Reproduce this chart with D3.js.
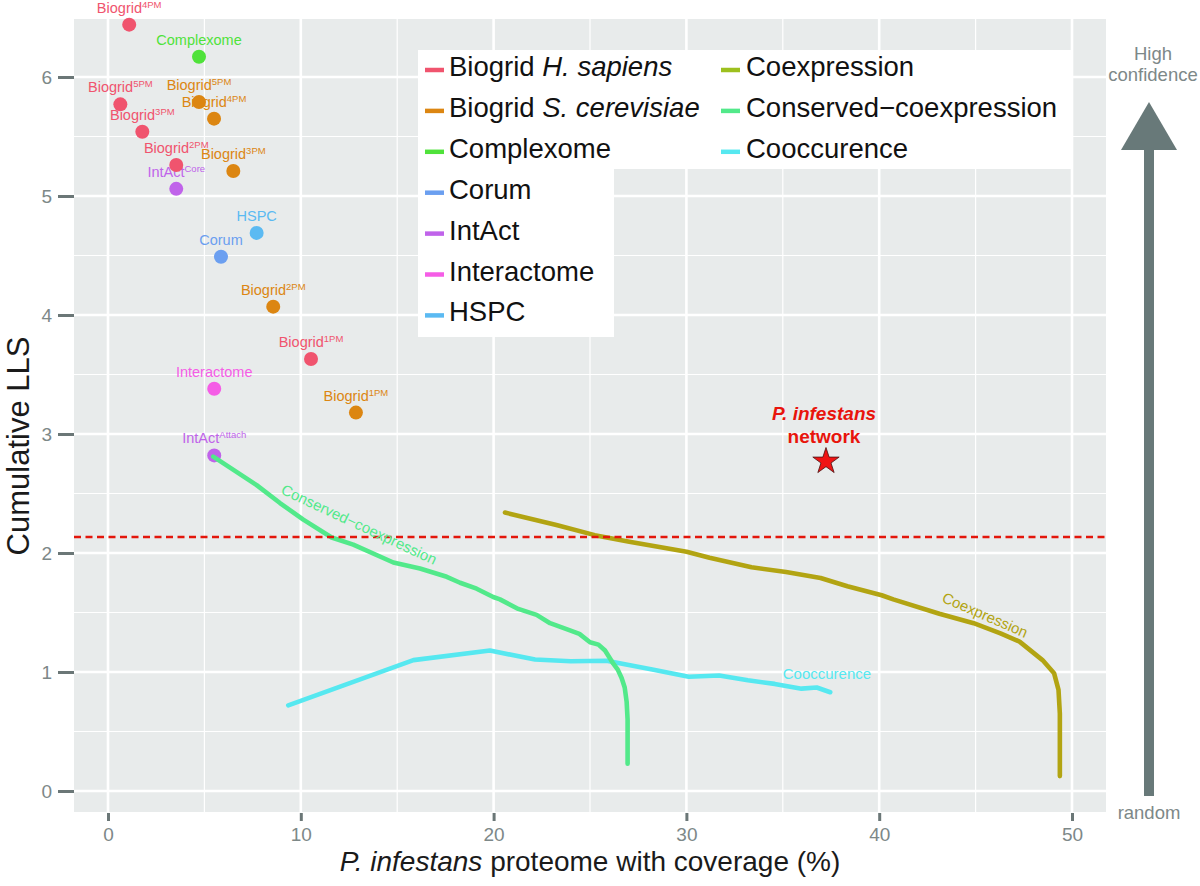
<!DOCTYPE html>
<html>
<head>
<meta charset="utf-8">
<script src="https://cdn.jsdelivr.net/npm/d3@7"></script>
<style>
  html, body { margin: 0; padding: 0; background: #ffffff; }
  svg { display: block; }
  text { font-family: "Liberation Sans", Arial, Helvetica, sans-serif; }
</style>
</head>
<body>
<div id="chart"></div>
<script>
// ---------------- DATA ----------------
const groupNames = ["Biogrid H. sapiens", "Biogrid S. cerevisiae", "Complexome", "Corum", "IntAct",
                    "Interactome", "HSPC", "Coexpression", "Conserved\u2212coexpression", "Cooccurence"];
const groupColors = ["#f0546e", "#dc8612", "#4fe23a", "#6b9ff0", "#c063ea",
                     "#f55de6", "#5bbaf2", "#b2a412", "#52e98a", "#56e8f0"];
const legendKeyColors = ["#f0546e", "#dc8612", "#4fe23a", "#6b9ff0", "#c063ea",
                         "#f55de6", "#5bbaf2", "#9dc01e", "#52e98a", "#56e8f0"];

// point datasets
const pointNames  = ["Biogrid", "Complexome", "Biogrid", "Biogrid", "Biogrid", "Biogrid", "Biogrid", "Biogrid",
                     "IntAct", "HSPC", "Corum", "Biogrid", "Biogrid", "Interactome", "Biogrid", "IntAct"];
const pointSups   = ["4PM", "", "5PM", "5PM", "4PM", "3PM", "2PM", "3PM",
                     "Core", "", "", "2PM", "1PM", "", "1PM", "Attach"];
const pointGroups = ["Biogrid H. sapiens", "Complexome", "Biogrid H. sapiens", "Biogrid S. cerevisiae",
                     "Biogrid S. cerevisiae", "Biogrid H. sapiens", "Biogrid H. sapiens", "Biogrid S. cerevisiae",
                     "IntAct", "HSPC", "Corum", "Biogrid S. cerevisiae", "Biogrid H. sapiens", "Interactome",
                     "Biogrid S. cerevisiae", "IntAct"];
const pointX = [1.10, 4.72, 0.64, 4.72, 5.50, 1.78, 3.54, 6.50, 3.54, 7.71, 5.86, 8.57, 10.53, 5.51, 12.86, 5.51];
const pointY = [6.44, 6.17, 5.77, 5.79, 5.65, 5.54, 5.26, 5.21, 5.06, 4.69, 4.49, 4.07, 3.63, 3.38, 3.18, 2.82];

// curve datasets
const coexX = [20.59, 23.26, 25.25, 27.04, 30.01, 31.20, 33.38, 35.17, 36.96, 38.35, 40.13, 40.73,
               43.12, 44.90, 46.29, 47.28, 48.47, 49.07, 49.30, 49.37, 49.37];
const coexY = [2.34, 2.235, 2.15, 2.095, 2.01, 1.96, 1.88, 1.84, 1.79, 1.72, 1.645, 1.61,
               1.49, 1.41, 1.325, 1.255, 1.10, 0.99, 0.85, 0.65, 0.125];

const consX = [5.46, 7.71, 8.92, 10.13, 11.60, 12.72, 14.80, 16.18, 17.57, 18.26, 19.12, 19.98, 20.33,
               21.28, 22.23, 22.93, 23.96, 24.45, 25.00, 25.44, 25.78, 26.21, 26.44, 26.64, 26.80, 26.90,
               26.95, 26.95];
const consY = [2.81, 2.57, 2.42, 2.28, 2.13, 2.07, 1.92, 1.87, 1.80, 1.75, 1.70, 1.63, 1.61,
               1.53, 1.48, 1.41, 1.35, 1.32, 1.25, 1.23, 1.18, 1.07, 1.02, 0.95, 0.87, 0.75,
               0.60, 0.23];

const coocX = [9.35, 15.84, 19.81, 22.15, 24.00, 25.86, 28.23, 30.12, 31.70, 33.19, 34.58, 35.97, 36.76, 37.46];
const coocY = [0.72, 1.10, 1.18, 1.105, 1.09, 1.095, 1.02, 0.96, 0.97, 0.93, 0.90, 0.86, 0.87, 0.83];

const curveGroups   = ["Conserved\u2212coexpression", "Coexpression", "Cooccurence"];
const curveLabelX   = [13.02, 45.49, 37.29];
const curveLabelY   = [2.24, 1.48, 0.985];
const curveLabelRot = [25, 23.5, 0];

const thresholdY = 2.135;
const starX = 37.24, starY = 2.77;

const xTicks = [0, 10, 20, 30, 40, 50];
const yTicks = [0, 1, 2, 3, 4, 5, 6];
const xMinor = [5, 15, 25, 35, 45];
const yMinor = [0.5, 1.5, 2.5, 3.5, 4.5, 5.5];

// ---------------- LAYOUT ----------------
const W = 1200, H = 886;
const panel = { left: 74, right: 1106, top: 19, bottom: 812 };
const colorOf = g => groupColors[groupNames.indexOf(g)];

const svg = d3.select("#chart").append("svg").attr("width", W).attr("height", H);

const x = d3.scaleLinear().domain([-1.7635, 51.7635]).range([panel.left, panel.right]);
const y = d3.scaleLinear().domain([-0.1765, 6.4874]).range([panel.bottom, panel.top]);

// panel background
svg.append("rect")
  .attr("x", panel.left).attr("y", panel.top)
  .attr("width", panel.right - panel.left).attr("height", panel.bottom - panel.top)
  .attr("fill", "#e8ebeb");

// grid
const grid = svg.append("g");
grid.selectAll(".vmin").data(xMinor).join("line")
  .attr("x1", d => x(d)).attr("x2", d => x(d)).attr("y1", panel.top).attr("y2", panel.bottom)
  .attr("stroke", "#ffffff").attr("stroke-width", 1.2);
grid.selectAll(".hmin").data(yMinor).join("line")
  .attr("y1", d => y(d)).attr("y2", d => y(d)).attr("x1", panel.left).attr("x2", panel.right)
  .attr("stroke", "#ffffff").attr("stroke-width", 1.2);
grid.selectAll(".vmaj").data(xTicks).join("line")
  .attr("x1", d => x(d)).attr("x2", d => x(d)).attr("y1", panel.top).attr("y2", panel.bottom)
  .attr("stroke", "#ffffff").attr("stroke-width", 2.6);
grid.selectAll(".hmaj").data(yTicks).join("line")
  .attr("y1", d => y(d)).attr("y2", d => y(d)).attr("x1", panel.left).attr("x2", panel.right)
  .attr("stroke", "#ffffff").attr("stroke-width", 2.6);

// axes
const tickColor = "#6b7777", tickTextColor = "#7d8888";
const xAxis = svg.append("g").attr("transform", `translate(0,${panel.bottom})`)
  .call(d3.axisBottom(x).tickValues(xTicks).tickSize(9).tickPadding(7).tickFormat(d3.format("d")));
const yAxis = svg.append("g").attr("transform", `translate(${panel.left},0)`)
  .call(d3.axisLeft(y).tickValues(yTicks).tickSize(16).tickPadding(6).tickFormat(d3.format("d")));
[xAxis, yAxis].forEach(a => {
  a.select(".domain").remove();
  a.selectAll(".tick line").attr("stroke", tickColor).attr("stroke-width", 3);
  a.selectAll(".tick text").attr("fill", tickTextColor)
    .style("font-family", '"Liberation Sans", Arial, sans-serif').style("font-size", "19px");
});
xAxis.selectAll(".tick line").attr("y1", 1);

// axis titles
const xt = svg.append("text").attr("x", (panel.left + panel.right) / 2).attr("y", 871)
  .attr("text-anchor", "middle").attr("fill", "#1a1a1a").style("font-size", "28px");
xt.append("tspan").attr("font-style", "italic").text("P. infestans");
xt.append("tspan").text(" proteome with coverage (%)");

svg.append("text").attr("transform", "translate(29,446) rotate(-90)")
  .attr("text-anchor", "middle").attr("fill", "#1a1a1a").style("font-size", "31px")
  .text("Cumulative LLS");

// point labels (drawn under the points)
const pts = pointX.map((v, i) => ({ x: v, y: pointY[i], name: pointNames[i], sup: pointSups[i], g: pointGroups[i] }));
const lbl = svg.append("g").selectAll("text").data(pts).join("text")
  .attr("x", d => x(d.x)).attr("y", d => y(d.y) - 12)
  .attr("text-anchor", "middle").attr("fill", d => colorOf(d.g)).style("font-size", "14.5px");
lbl.append("tspan").text(d => d.name);
lbl.append("tspan").attr("dy", -5).style("font-size", "9.5px").text(d => d.sup);

// points
svg.append("g").selectAll("circle").data(pts).join("circle")
  .attr("cx", d => x(d.x)).attr("cy", d => y(d.y)).attr("r", 7)
  .attr("fill", d => colorOf(d.g));

// curves
const line = d3.line().x(d => x(d[0])).y(d => y(d[1])).curve(d3.curveLinear);
const curves = [
  { g: "Cooccurence", pts: coocX.map((v, i) => [v, coocY[i]]) },
  { g: "Conserved\u2212coexpression", pts: consX.map((v, i) => [v, consY[i]]) },
  { g: "Coexpression", pts: coexX.map((v, i) => [v, coexY[i]]) }
];
svg.append("g").selectAll("path").data(curves).join("path")
  .attr("d", d => line(d.pts)).attr("fill", "none")
  .attr("stroke", d => colorOf(d.g)).attr("stroke-width", 4.6)
  .attr("stroke-linejoin", "round").attr("stroke-linecap", "round");

// threshold dashed line
svg.append("line")
  .attr("x1", panel.left).attr("x2", panel.right).attr("y1", y(thresholdY)).attr("y2", y(thresholdY))
  .attr("stroke", "#e3160b").attr("stroke-width", 2.6).attr("stroke-dasharray", "7,4.5");

// curve labels
svg.append("g").selectAll("text").data(curveGroups).join("text")
  .attr("transform", (d, i) => `translate(${x(curveLabelX[i])},${y(curveLabelY[i])}) rotate(${curveLabelRot[i]})`)
  .attr("text-anchor", "middle").attr("dy", "0.35em")
  .attr("fill", d => colorOf(d)).style("font-size", "15px").text(d => d);

// star + annotation
svg.append("path")
  .attr("d", d3.symbol(d3.symbolStar, 215)())
  .attr("transform", `translate(${x(starX)},${y(starY)})`)
  .attr("fill", "#f01414").attr("stroke", "#4a1212").attr("stroke-width", 0.8);
const st = svg.append("text").attr("text-anchor", "middle").attr("fill", "#e8140c")
  .style("font-size", "19px").attr("font-weight", "bold");
st.append("tspan").attr("x", x(starX) - 2).attr("y", y(starY) - 41).attr("font-style", "italic").text("P. infestans");
st.append("tspan").attr("x", x(starX) - 2).attr("y", y(starY) - 18).text("network");

// legend
const lg = svg.append("g");
const legX = 418, legTop = 50, legRight = 1071, legMidBottom = 169, legColRight = 614, legBottom = 337;
lg.append("path")
  .attr("d", `M${legX},${legTop}H${legRight}V${legMidBottom}H${legColRight}V${legBottom}H${legX}Z`)
  .attr("fill", "#ffffff");
const rowStep = 40.9, firstBase = 76;
const legItems = groupNames.map((g, i) => {
  const col = i < 7 ? 0 : 1;
  const row = i < 7 ? i : i - 7;
  return { g, i, kx: col === 0 ? 425 : 721, tx: col === 0 ? 449 : 746, base: firstBase + row * rowStep };
});
lg.selectAll("line").data(legItems).join("line")
  .attr("x1", d => d.kx).attr("x2", d => d.kx + 19)
  .attr("y1", d => d.base - 6).attr("y2", d => d.base - 6)
  .attr("stroke", d => legendKeyColors[d.i]).attr("stroke-width", 4.5);
const lt = lg.selectAll("text").data(legItems).join("text")
  .attr("x", d => d.tx).attr("y", d => d.base).attr("fill", "#111111").style("font-size", "27.5px");
lt.each(function (d) {
  const t = d3.select(this);
  if (d.g === "Biogrid H. sapiens") {
    t.append("tspan").text("Biogrid ");
    t.append("tspan").attr("font-style", "italic").text("H. sapiens");
  } else if (d.g === "Biogrid S. cerevisiae") {
    t.append("tspan").text("Biogrid ");
    t.append("tspan").attr("font-style", "italic").text("S. cerevisiae");
  } else {
    t.text(d.g);
  }
});

// confidence arrow (outside panel)
const ax = 1149, arrowTip = 102, headBase = 150, arrowEnd = 796;
const arrowColor = "#687979";
svg.append("rect").attr("x", ax - 5).attr("y", headBase - 2).attr("width", 10)
  .attr("height", arrowEnd - headBase + 2).attr("fill", arrowColor);
svg.append("path")
  .attr("d", `M${ax},${arrowTip}L${ax + 28},${headBase}L${ax - 28},${headBase}Z`)
  .attr("fill", arrowColor);
const sideText = [["High", 60], ["confidence", 81], ["random", 819]];
svg.append("g").selectAll("text").data(sideText).join("text")
  .attr("x", (d, i) => i < 2 ? ax + 4 : ax).attr("y", d => d[1])
  .attr("text-anchor", "middle").attr("fill", "#7d8888").style("font-size", "18.5px")
  .text(d => d[0]);
</script>
</body>
</html>
